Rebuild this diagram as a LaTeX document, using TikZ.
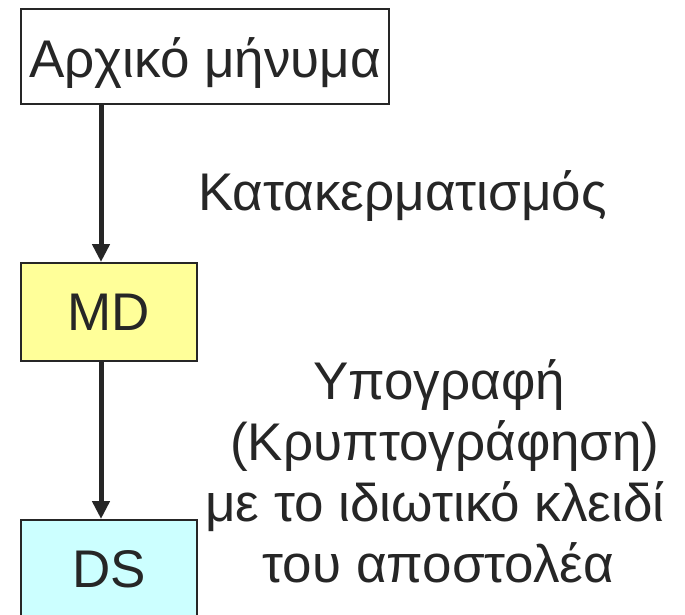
\documentclass[tikz,border=0pt]{standalone}
\usepackage{fontspec}
\setmainfont{Liberation Sans}
\usetikzlibrary{arrows.meta}
\definecolor{ink}{HTML}{262626}
\definecolor{mdfill}{HTML}{FFFF99}
\definecolor{dsfill}{HTML}{CCFFFF}
\tikzset{
  bigtext/.style={font=\fontsize{53}{60}\selectfont, text=ink},
  box/.style={draw=ink, line width=2pt, bigtext, inner sep=0pt,
              text height=37pt, text depth=0pt},
  conn/.style={draw=ink, line width=5pt,
               -{Triangle[width=17pt,length=18pt]}},
  note/.style={bigtext, anchor=base, inner sep=0pt}
}
\begin{document}
\begin{tikzpicture}[x=1pt,y=-1pt]
  \useasboundingbox (0,0) rectangle (685,614);
  \clip (0,0) rectangle (685,614);
  \fill[white] (0,0) rectangle (685,614);

  % boxes
  \node[box, fill=white, minimum width=368pt, minimum height=95pt,
        text height=41pt] (msg) at (205,56.5) {Αρχικό μήνυμα};
  \node[box, fill=mdfill, minimum width=176pt, minimum height=98pt]
        (md) at (109,312) {MD};
  \node[box, fill=dsfill, minimum width=176pt, minimum height=97pt]
        (ds) at (109,568.5) {DS};

  % connectors
  \coordinate (arrx) at (101,0);
  \draw[conn] (msg.south -| arrx) -- (md.north -| arrx);
  \draw[conn] (md.south -| arrx) -- (ds.north -| arrx);

  % step labels
  \node[note] (hash) at (402.5,210) {Κατακερματισμός};
  \node[note] (sig1) at (439,399) {Υπογραφή};
  \node[note] (sig2) at (445,460) {(Κρυπτογράφηση)};
  \node[note] (sig3) at (435,521) {με το ιδιωτικό κλειδί};
  \node[note] (sig4) at (438.5,582) {του αποστολέα};
\end{tikzpicture}
\end{document}
